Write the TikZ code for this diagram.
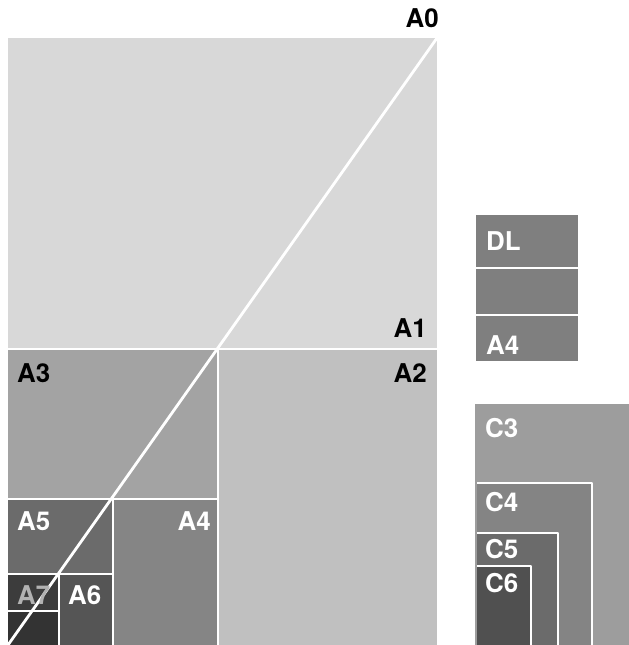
\documentclass[tikz,border=0pt]{standalone}
\usepackage{fontspec}
\setmainfont{TeX Gyre Heros}
\definecolor{aone}{HTML}{D8D8D8}
\definecolor{atwo}{HTML}{C0C0C0}
\definecolor{athree}{HTML}{A3A3A3}
\definecolor{afour}{HTML}{858585}
\definecolor{afive}{HTML}{6B6B6B}
\definecolor{asix}{HTML}{555555}
\definecolor{aseven}{HTML}{3C3C3C}
\definecolor{aeight}{HTML}{333333}
\definecolor{dlcol}{HTML}{7F7F7F}
\definecolor{cthree}{HTML}{9D9D9D}
\definecolor{cfour}{HTML}{848484}
\definecolor{cfive}{HTML}{6B6B6B}
\definecolor{csix}{HTML}{505050}
\tikzset{
  sep/.style={white,line width=2.8bp},
  lbl/.style={inner sep=0pt,font=\fontsize{26}{30}\selectfont\bfseries},
  wlbl/.style={lbl,white},
}
\begin{document}
\begin{tikzpicture}[x=1bp,y=-1bp,line join=round]
            \useasboundingbox (0,0) rectangle (629,645);
            \def\xl{8} \def\xr{437} \def\yt{38} \def\yb{645}
            \fill[aone] (\xl,\yt) rectangle (\xr,\yb);
            \fill[atwo] (218,349) rectangle (\xr,\yb);
            \fill[athree] (\xl,349) rectangle (218,499);
            \fill[afour] (113,499) rectangle (218,\yb);
            \fill[afive] (\xl,499) rectangle (113,574);
            \fill[asix] (59,574) rectangle (113,\yb);
            \fill[aseven] (\xl,574) rectangle (59,611);
            \fill[aeight] (\xl,611) rectangle (59,\yb);
            \draw[sep] (\xl,349)--(\xr,349);
            \draw[sep] (218,349)--(218,\yb);
            \draw[sep] (\xl,499)--(218,499);
            \draw[sep] (113,499)--(113,\yb);
            \draw[sep] (\xl,574)--(113,574);
            \draw[sep] (59,574)--(59,\yb);
            \draw[sep] (\xl,611)--(59,611);
            \draw[sep] (\xl,\yb)--(\xr,\yt);
            \node[lbl,anchor=east] (azero) at (439,18) {A0};
            \node[lbl,anchor=east] (aonel) at (427,328) {A1};
            \node[lbl,anchor=east] (atwol) at (427,373) {A2};
            \node[lbl,anchor=west] (athreel) at (17,373) {A3};
            \node[wlbl,anchor=west] (afivel) at (17,521) {A5};
            \node[wlbl,anchor=east] (afourl) at (211,521) {A4};
            \node[lbl,anchor=west,text=black!30] (asevenl) at (17,595) {A7};
            \node[wlbl,anchor=west] (asixl) at (68,595) {A6};
            \fill[dlcol] (476,215) rectangle (578,361);
            \draw[sep] (474,268)--(580,268);
            \draw[sep] (474,315)--(580,315);
            \node[wlbl,anchor=west] (dl) at (486,241) {DL};
            \node[wlbl,anchor=west] (dlfour) at (486,345) {A4};
            \fill[cthree] (476,404) rectangle (629,\yb);
            \filldraw[cfour,draw=white,line width=2.8bp] (476,\yb+5)--(476,483)--(592,483)--(592,\yb+5);
            \filldraw[cfive,draw=white,line width=2.8bp] (476,\yb+5)--(476,533)--(558,533)--(558,\yb+5);
            \filldraw[csix,draw=white,line width=2.8bp] (476,\yb+5)--(476,566)--(531,566)--(531,\yb+5);
            \fill[cthree] (474.5,404) rectangle (477,\yb);
            \node[wlbl,anchor=west] (cthreel) at (485,428) {C3};
            \node[wlbl,anchor=west] (cfourl) at (485,502) {C4};
            \node[wlbl,anchor=west] (cfivel) at (485,549) {C5};
            \node[wlbl,anchor=west] (csixl) at (485,583) {C6};
\end{tikzpicture}
\end{document}
